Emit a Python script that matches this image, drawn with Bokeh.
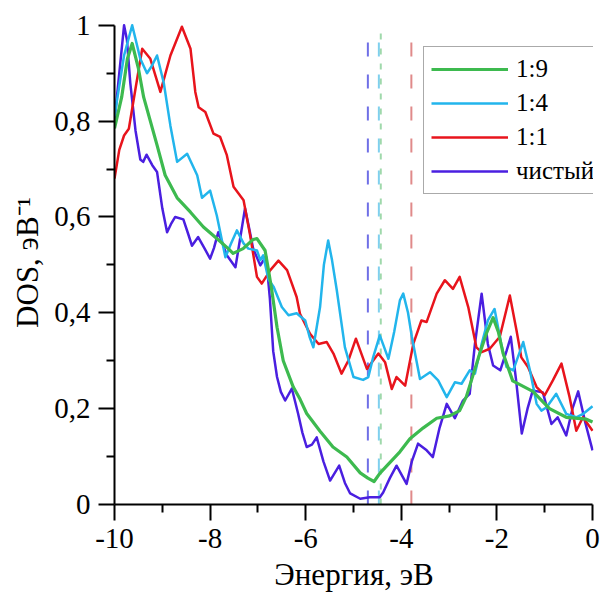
from bokeh.plotting import figure
from bokeh.models import Range1d, FixedTicker, Legend, LegendItem
from bokeh.embed import file_html
from bokeh.resources import INLINE

# ---- data ----
e_pure = [-10.0, -9.92, -9.80, -9.74, -9.67, -9.56, -9.46, -9.40, -9.33, -9.21, -9.11, -9.0, -8.9, -8.82,
          -8.73, -8.56, -8.46, -8.38, -8.25, -8.12, -8.0, -7.92, -7.83, -7.74, -7.65, -7.47, -7.38, -7.27,
          -7.18, -7.1, -6.95, -6.83, -6.75, -6.68, -6.60, -6.52, -6.43, -6.29, -6.16, -6.07, -5.98, -5.87,
          -5.77, -5.63, -5.49, -5.30, -5.18, -5.07, -4.86, -4.66, -4.45, -4.38, -4.24, -4.10, -3.89, -3.78,
          -3.65, -3.47, -3.34, -3.20, -3.05, -2.88, -2.71, -2.57, -2.46, -2.32, -2.19, -2.08, -1.93, -1.80,
          -1.71, -1.60, -1.48, -1.36, -1.25, -1.04, -0.86, -0.73, -0.55, -0.42, -0.30, -0.15, 0.0]
dos_pure = [0.80, 0.88, 1.0, 0.97, 0.88, 0.78, 0.72, 0.715, 0.73, 0.708, 0.694, 0.618, 0.568, 0.585,
            0.60, 0.595, 0.565, 0.54, 0.558, 0.535, 0.513, 0.535, 0.568, 0.545, 0.52, 0.495, 0.55, 0.618,
            0.575, 0.534, 0.499, 0.518, 0.43, 0.32, 0.266, 0.235, 0.217, 0.242, 0.19, 0.15, 0.12, 0.125,
            0.14, 0.09, 0.05, 0.081, 0.045, 0.023, 0.012, 0.015, 0.015, 0.025, 0.055, 0.081, 0.043, 0.09,
            0.127, 0.113, 0.099, 0.16, 0.21, 0.18, 0.217, 0.231, 0.335, 0.44, 0.335, 0.29, 0.28, 0.32,
            0.35, 0.26, 0.148, 0.20, 0.238, 0.234, 0.168, 0.182, 0.144, 0.20, 0.236, 0.17, 0.113]

e_19 = [-10.0, -9.85, -9.73, -9.63, -9.5, -9.39, -9.25, -9.11, -8.94, -8.69, -8.41, -8.14, -7.86, -7.62,
        -7.52, -7.31, -7.10, -7.02, -6.85, -6.78, -6.71, -6.60, -6.47, -6.26, -6.12, -5.98, -5.70, -5.43,
        -5.14, -4.86, -4.70, -4.57, -4.45, -4.31, -4.03, -3.82, -3.54, -3.26, -2.99, -2.78, -2.64, -2.50,
        -2.36, -2.22, -2.08, -1.97, -1.87, -1.67, -1.25, -0.9, -0.55, -0.13, 0.0]
dos_19 = [0.785, 0.85, 0.93, 0.962, 0.91, 0.85, 0.80, 0.75, 0.687, 0.64, 0.61, 0.579, 0.555, 0.534,
          0.524, 0.534, 0.553, 0.555, 0.53, 0.49, 0.447, 0.37, 0.30, 0.245, 0.22, 0.19, 0.153, 0.12,
          0.099, 0.066, 0.055, 0.048, 0.065, 0.08, 0.11, 0.137, 0.16, 0.18, 0.185, 0.196, 0.225, 0.27,
          0.315, 0.357, 0.39, 0.36, 0.315, 0.258, 0.236, 0.20, 0.182, 0.178, 0.172]

e_14 = [-10.0, -9.8, -9.63, -9.46, -9.32, -9.22, -9.11, -8.97, -8.83, -8.69, -8.48, -8.27, -8.17, -8.0,
        -7.86, -7.68, -7.56, -7.44, -7.30, -7.20, -7.02, -6.95, -6.89, -6.78, -6.67, -6.50, -6.36, -6.19,
        -6.01, -5.92, -5.84, -5.70, -5.62, -5.53, -5.45, -5.35, -5.18, -5.0, -4.80, -4.69, -4.59, -4.45,
        -4.27, -4.15, -4.03, -3.96, -3.86, -3.78, -3.61, -3.40, -3.23, -3.05, -2.88, -2.74, -2.57, -2.46,
        -2.32, -2.19, -2.05, -1.91, -1.80, -1.66, -1.45, -1.31, -1.17, -1.07, -0.96, -0.76, -0.55, -0.34,
        -0.20, 0.0]
dos_14 = [0.81, 0.937, 1.0, 0.93, 0.90, 0.915, 0.937, 0.88, 0.79, 0.715, 0.732, 0.687, 0.64, 0.655,
          0.603, 0.516, 0.545, 0.572, 0.545, 0.534, 0.53, 0.51, 0.52, 0.47, 0.454, 0.412, 0.395, 0.399,
          0.384, 0.35, 0.328, 0.412, 0.50, 0.551, 0.51, 0.447, 0.328, 0.266, 0.26, 0.266, 0.307, 0.353,
          0.304, 0.36, 0.426, 0.44, 0.40, 0.35, 0.262, 0.276, 0.259, 0.224, 0.255, 0.252, 0.28, 0.273,
          0.335, 0.384, 0.408, 0.335, 0.287, 0.28, 0.339, 0.28, 0.21, 0.196, 0.203, 0.231, 0.189, 0.182,
          0.189, 0.205]

e_11 = [-10.0, -9.9, -9.8, -9.7, -9.56, -9.42, -9.25, -9.04, -8.83, -8.59, -8.41, -8.31, -8.24, -8.10,
        -7.93, -7.79, -7.65, -7.51, -7.30, -7.16, -7.02, -6.92, -6.74, -6.57, -6.39, -6.19, -6.12, -5.91,
        -5.73, -5.56, -5.42, -5.25, -5.11, -4.95, -4.72, -4.48, -4.34, -4.20, -4.10, -3.92, -3.75, -3.58,
        -3.47, -3.26, -3.09, -2.92, -2.78, -2.60, -2.43, -2.32, -2.15, -1.94, -1.73, -1.59, -1.49, -1.35,
        -1.17, -1.0, -0.83, -0.65, -0.48, -0.34, -0.20, 0.0]
dos_11 = [0.68, 0.74, 0.77, 0.784, 0.868, 0.951, 0.93, 0.861, 0.937, 0.997, 0.951, 0.861, 0.829, 0.819,
          0.774, 0.767, 0.729, 0.663, 0.635, 0.56, 0.475, 0.461, 0.489, 0.509, 0.489, 0.433, 0.398, 0.356,
          0.335, 0.339, 0.315, 0.273, 0.30, 0.346, 0.283, 0.315, 0.297, 0.241, 0.266, 0.248, 0.335, 0.384,
          0.381, 0.44, 0.468, 0.45, 0.475, 0.412, 0.328, 0.318, 0.325, 0.35, 0.436, 0.363, 0.307, 0.287,
          0.245, 0.228, 0.259, 0.294, 0.224, 0.154, 0.182, 0.154]

# Fermi levels (dashed verticals): pure, 1:4, 1:9, 1:1
fermi_e = [-4.70, -4.47, -4.43, -3.79]
fermi_top = [0.965, 0.965, 0.983, 0.965]

series_labels = ["1:9", "1:4", "1:1", "чистый"]
y_ticks = [0, 0.2, 0.4, 0.6, 0.8, 1]
y_tick_labels = ["0", "0,2", "0,4", "0,6", "0,8", "1"]
y_minor = [0.1, 0.3, 0.5, 0.7, 0.9]
x_ticks = [-10, -8, -6, -4, -2, 0]
x_tick_labels = ["-10", "-8", "-6", "-4", "-2", "0"]
x_minor = [-9, -7, -5, -3, -1]

# ---- styles ----
c_green = "#3dba4f"
c_cyan = "#22b5ec"
c_red = "#e8141c"
c_purple = "#4a1fe0"
fermi_colors = ["#6f6fe6", "#7fd0ee", "#9fd9ab", "#e08a8a"]
fermi_dash = ["14 18", "14 18", "6 9", "14 18"]

FONT = "Liberation Serif"

p = figure(width=603, height=601, output_backend="svg", toolbar_location=None,
           x_range=Range1d(-10, 0.02), y_range=Range1d(0, 1.01),
           min_border_left=114, min_border_right=10, min_border_top=20, min_border_bottom=97)
p.xgrid.visible = False
p.ygrid.visible = False
p.outline_line_color = None
p.background_fill_color = "white"
p.border_fill_color = "white"

for xe, yt, col, dash in zip(fermi_e, fermi_top, fermi_colors, fermi_dash):
    p.segment(x0=[xe], y0=[0], x1=[xe], y1=[yt], line_color=col, line_width=2, line_dash=dash)

r_pure = p.line(e_pure, dos_pure, line_color=c_purple, line_width=2.5, line_join="round")
r_11 = p.line(e_11, dos_11, line_color=c_red, line_width=2.5, line_join="round")
r_14 = p.line(e_14, dos_14, line_color=c_cyan, line_width=2.5, line_join="round")
r_19 = p.line(e_19, dos_19, line_color=c_green, line_width=3.2, line_join="round")

legend = Legend(items=[LegendItem(label=series_labels[0], renderers=[r_19]),
                       LegendItem(label=series_labels[1], renderers=[r_14]),
                       LegendItem(label=series_labels[2], renderers=[r_11]),
                       LegendItem(label=series_labels[3], renderers=[r_pure])],
                location=(309, 310),
                label_text_font=FONT, label_text_font_style="normal",
                label_text_font_size="25px", label_text_color="black",
                glyph_width=77, glyph_height=30, label_height=30, label_standoff=8,
                padding=7, spacing=4, margin=0,
                border_line_color="#555555", border_line_width=1.5, background_fill_alpha=1)
p.add_layout(legend, "center")

xa = p.xaxis[0]
ya = p.yaxis[0]
xa.ticker = FixedTicker(ticks=x_ticks, minor_ticks=x_minor)
ya.ticker = FixedTicker(ticks=y_ticks, minor_ticks=y_minor)
xa.major_label_overrides = {t: l for t, l in zip(x_ticks, x_tick_labels)}
ya.major_label_overrides = {t: l for t, l in zip(y_ticks, y_tick_labels)}
xa.bounds = (-10, 0)
ya.bounds = (0, 1)
xa.axis_label = "Энергия, эВ"
ya.axis_label = "DOS, эВ⁻¹"
for ax in (xa, ya):
    ax.axis_line_width = 2
    ax.axis_line_color = "black"
    ax.major_tick_line_width = 2
    ax.minor_tick_line_width = 2
    ax.major_tick_line_color = "black"
    ax.minor_tick_line_color = "black"
    ax.major_tick_in = 0
    ax.major_tick_out = 16
    ax.minor_tick_in = 0
    ax.minor_tick_out = 8
    ax.major_label_text_font = FONT
    ax.major_label_text_font_style = "normal"
    ax.major_label_text_font_size = "29px"
    ax.major_label_text_color = "black"
    ax.axis_label_text_font = FONT
    ax.axis_label_text_font_size = "31px"
    ax.axis_label_text_font_style = "normal"
    ax.axis_label_text_color = "black"
    ax.major_label_standoff = 8
    ax.axis_label_standoff = 6
ya.major_label_orientation = "horizontal"

open("out.html", "w").write(file_html(p, INLINE))
